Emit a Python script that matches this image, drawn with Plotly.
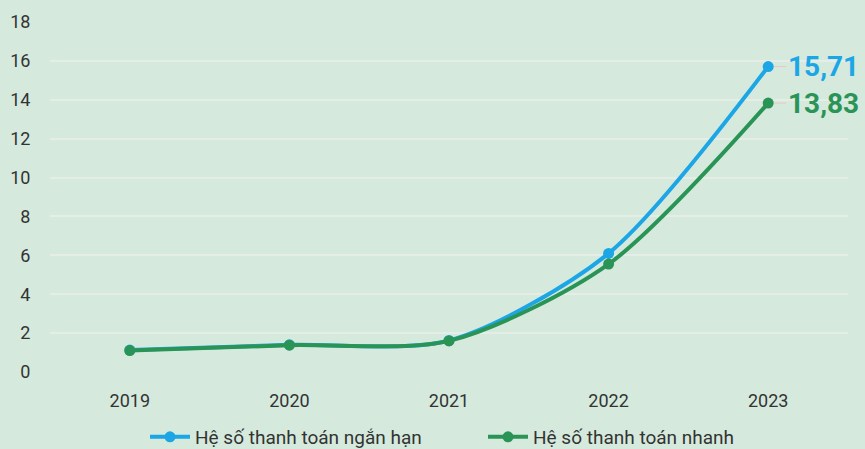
import plotly.graph_objects as go

years = ["2019", "2020", "2021", "2022", "2023"]
ngan_han = [1.13, 1.40, 1.62, 6.10, 15.71]
nhanh = [1.10, 1.38, 1.60, 5.55, 13.83]
y_ticks = [0, 2, 4, 6, 8, 10, 12, 14, 16, 18]

BLUE = "#1CA6E6"
GREEN = "#2A9457"
BG = "#D5EADD"
TEXT = "#333333"

fig = go.Figure()
fig.add_trace(go.Scatter(
    x=years, y=ngan_han, name="Hệ số thanh toán ngắn hạn",
    mode="lines+markers", line=dict(color=BLUE, width=4, shape="spline", smoothing=0.8),
    marker=dict(size=11, color=BLUE), cliponaxis=False,
))
fig.add_trace(go.Scatter(
    x=years, y=nhanh, name="Hệ số thanh toán nhanh",
    mode="lines+markers", line=dict(color=GREEN, width=4, shape="spline", smoothing=0.8),
    marker=dict(size=11, color=GREEN), cliponaxis=False,
))

# value labels beside the last year's points (x given as category index)
last = len(years) - 1
for vals, col in ((ngan_han, BLUE), (nhanh, GREEN)):
    fig.add_annotation(
        x=last, y=vals[-1], xref="x", yref="y",
        text=f"{vals[-1]:.2f}".replace(".", ","),
        showarrow=True, arrowhead=0, arrowwidth=1, arrowcolor="#E8C8C0",
        ax=55, ay=0, standoff=6,
        font=dict(family="Roboto", size=28, color=col, weight="bold"),
    )

fig.update_layout(
    width=865, height=449,
    margin=dict(l=50, r=17, t=22, b=77, autoexpand=False),
    paper_bgcolor=BG, plot_bgcolor=BG,
    font=dict(family="Roboto", size=18, color=TEXT),
    showlegend=True,
    legend=dict(orientation="h", x=145 / 865, xanchor="left", xref="container",
                y=12 / 449, yanchor="middle", yref="container",
                font=dict(size=19, color=TEXT), itemwidth=40,
                entrywidth=283, entrywidthmode="pixels",
                traceorder="normal", tracegroupgap=0, bgcolor="rgba(0,0,0,0)"),
)
fig.update_xaxes(
    type="category", range=[-0.5, 4.5], showgrid=False, zeroline=False, showline=False,
    ticks="outside", ticklen=12, tickcolor="rgba(0,0,0,0)",
    tickfont=dict(size=18, color=TEXT),
)
fig.update_yaxes(
    range=[0, 18], tickvals=y_ticks, showgrid=True, gridcolor="#E4EEE6", gridwidth=1.5,
    zeroline=False, showline=False,
    ticks="outside", ticklen=15, tickcolor="rgba(0,0,0,0)",
    tickfont=dict(size=18, color=TEXT),
)

fig.write_html("out.html")
